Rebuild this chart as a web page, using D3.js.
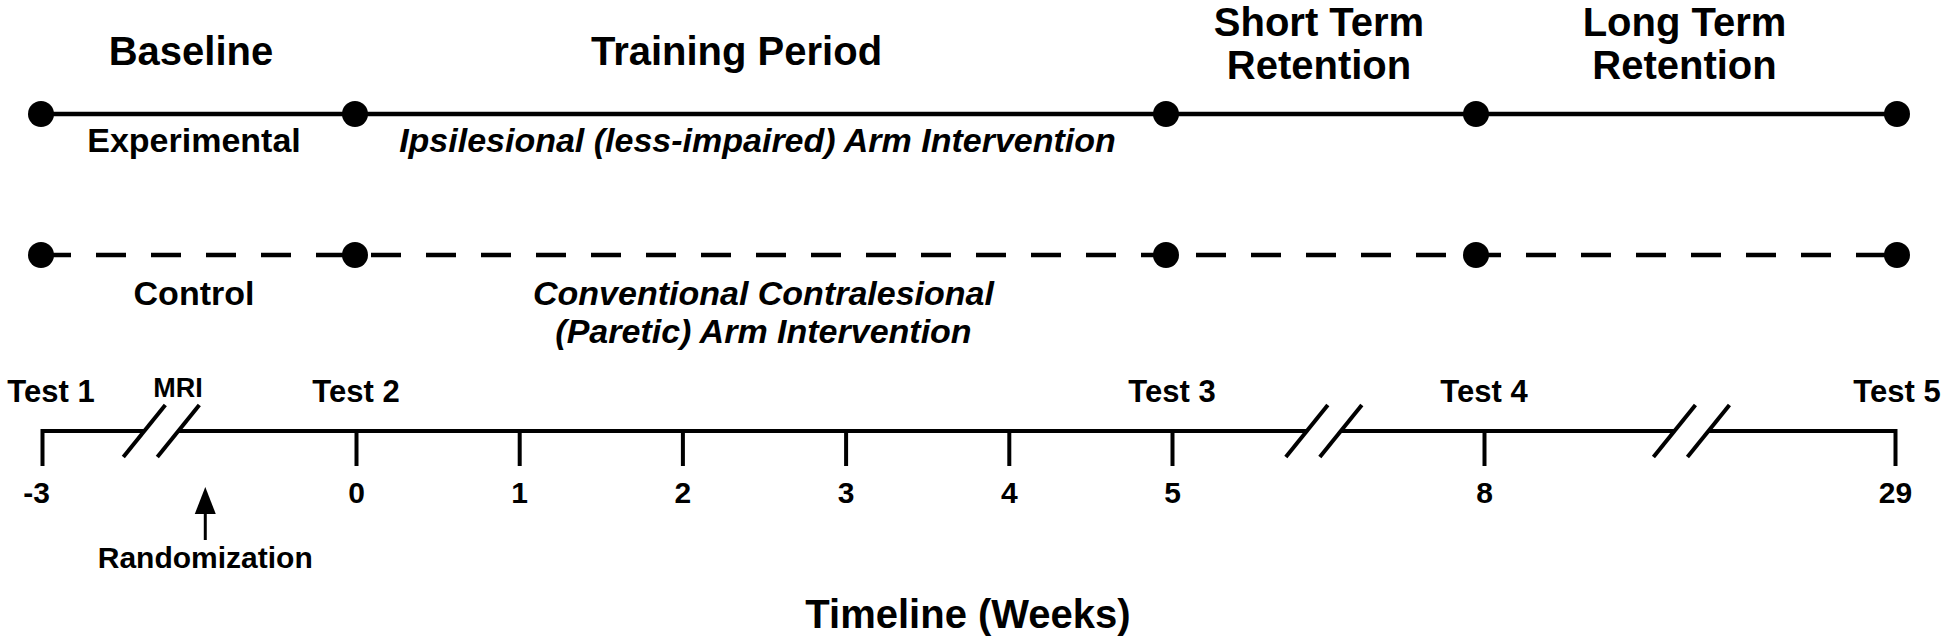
<!DOCTYPE html>
<html>
<head>
<meta charset="utf-8">
<script src="https://cdn.jsdelivr.net/npm/d3@7/dist/d3.min.js"></script>
<style>
  html, body { margin: 0; padding: 0; background: #fff; }
  svg { display: block; }
  text { font-family: "Liberation Sans", Arial, Helvetica, sans-serif; font-weight: bold; fill: #000; }
</style>
</head>
<body>
<div id="chart"></div>
<script>
// ---------------- data ----------------
const phaseNames = ["Baseline", "Training Period", "Short Term\nRetention", "Long Term\nRetention"];
const phaseBoundaryWeeks = [-3, 0, 5, 8, 29];
const groupNames = ["Experimental", "Control"];
const groupInterventions = [
  "Ipsilesional (less-impaired) Arm Intervention",
  "Conventional Contralesional\n(Paretic) Arm Intervention"
];
const tickWeeks = [-3, 0, 1, 2, 3, 4, 5, 8, 29];
const tickLabels = ["-3", "0", "1", "2", "3", "4", "5", "8", "29"];
const testNames = ["Test 1", "Test 2", "Test 3", "Test 4", "Test 5"];
const testWeeks = [-3, 0, 5, 8, 29];
const mriWeek = -1.7;
const randomizationWeek = -1.44;
const axisBreakWeeks = [-1.86, 6.46, 18.6];
const axisTitle = "Timeline (Weeks)";

// ---------------- layout ----------------
const W = 1944, H = 640;
const svg = d3.select("#chart").append("svg").attr("width", W).attr("height", H);
svg.append("rect").attr("width", W).attr("height", H).attr("fill", "#fff");

// broken (piecewise) timeline scales
const x = d3.scaleLinear().domain(phaseBoundaryWeeks).range([42, 356, 1172, 1484, 1895]);
const px = d3.scaleLinear().domain(phaseBoundaryWeeks).range([41, 355, 1166, 1476, 1897]);

const rowY = [114, 255];
const axisY = 431;

// phase headers
const headerDx = {"Training Period": -22, "Baseline": -5};
phaseNames.forEach((name, i) => {
  const cx = (px(phaseBoundaryWeeks[i]) + px(phaseBoundaryWeeks[i + 1])) / 2 + (headerDx[name] || 0) - 2;
  const lines = name.split("\n");
  const t = svg.append("text").attr("text-anchor", "middle").attr("font-size", 40);
  lines.forEach((ln, j) => {
    t.append("tspan").attr("x", cx)
      .attr("y", lines.length === 1 ? 65 : 36 + j * 43)
      .text(ln);
  });
});

// group rows
groupNames.forEach((g, gi) => {
  const y = rowY[gi];
  const line = d3.line().x(d => px(d)).y(() => y);
  svg.append("path")
    .attr("d", line(phaseBoundaryWeeks))
    .attr("fill", "none")
    .attr("stroke", "#000")
    .attr("stroke-width", 4.5)
    .attr("stroke-dasharray", gi === 1 ? "30,25" : null);
  svg.selectAll(null).data(phaseBoundaryWeeks).enter().append("circle")
    .attr("cx", d => px(d)).attr("cy", y).attr("r", 13).attr("fill", "#000");

  // group label (under baseline phase)
  const bx = (px(phaseBoundaryWeeks[0]) + px(phaseBoundaryWeeks[1])) / 2 - 4;
  svg.append("text").attr("text-anchor", "middle").attr("font-size", 34)
    .attr("x", bx).attr("y", y + (gi === 0 ? 38 : 50)).text(g);

  // intervention label (under training phase)
  const tx = (px(phaseBoundaryWeeks[1]) + px(phaseBoundaryWeeks[2])) / 2 + (gi === 0 ? -3 : 3);
  const lines = groupInterventions[gi].split("\n");
  const t = svg.append("text").attr("text-anchor", "middle").attr("font-size", 34)
    .attr("font-style", "italic");
  lines.forEach((ln, j) => {
    t.append("tspan").attr("x", tx).attr("y", y + (gi === 0 ? 38 : 50) + j * 38).text(ln);
  });
});

// ---------------- axis ----------------
const axis = d3.axisBottom(x)
  .tickValues(tickWeeks)
  .tickSize(33)
  .tickSizeOuter(0)
  .tickFormat((d, i) => tickLabels[i]);
const ag = svg.append("g").attr("transform", `translate(0,${axisY})`).call(axis);
ag.select(".domain").remove();
ag.selectAll(".tick line").attr("stroke", "#000").attr("stroke-width", 4).attr("stroke-linecap", "square");
ag.selectAll(".tick text")
  .attr("y", 72).attr("dy", null)
  .attr("font-size", 30)
  .attr("font-family", '"Liberation Sans", Arial, sans-serif')
  .attr("font-weight", "bold")
  .attr("fill", "#000")
  .attr("dx", (d, i) => tickLabels[i].startsWith("-") ? -6 : 0);

// axis line segments with breaks
const halfGap = 17;
const segs = [];
let start = x(tickWeeks[0]);
axisBreakWeeks.forEach(b => {
  const c = x(b);
  segs.push([start, c - halfGap]);
  start = c + halfGap;
});
segs.push([start, x(tickWeeks[tickWeeks.length - 1])]);
svg.selectAll(null).data(segs).enter().append("line")
  .attr("x1", d => d[0]).attr("x2", d => d[1])
  .attr("y1", axisY).attr("y2", axisY)
  .attr("stroke", "#000").attr("stroke-width", 4);
// break slashes
axisBreakWeeks.forEach(b => {
  const c = x(b);
  [c - halfGap, c + halfGap].forEach(sx => {
    svg.append("line")
      .attr("x1", sx - 21).attr("y1", axisY + 26)
      .attr("x2", sx + 21).attr("y2", axisY - 26)
      .attr("stroke", "#000").attr("stroke-width", 4);
  });
});

// test labels
testNames.forEach((t, i) => {
  const dx = i === 0 ? 9 : (i === testNames.length - 1 ? 2 : 0);
  svg.append("text").attr("text-anchor", "middle").attr("font-size", 31)
    .attr("x", x(testWeeks[i]) + dx).attr("y", axisY - 29).text(t);
});
svg.append("text").attr("text-anchor", "middle").attr("font-size", 27)
  .attr("x", x(mriWeek)).attr("y", axisY - 34).text("MRI");

// randomization arrow
const rx = x(randomizationWeek);
svg.append("line").attr("x1", rx).attr("x2", rx).attr("y1", 540).attr("y2", 510)
  .attr("stroke", "#000").attr("stroke-width", 3);
svg.append("path")
  .attr("d", `M${rx},487 L${rx - 10.5},514 L${rx + 10.5},514 Z`)
  .attr("fill", "#000");
svg.append("text").attr("text-anchor", "middle").attr("font-size", 30)
  .attr("x", rx).attr("y", 568).text("Randomization");

// axis title
svg.append("text").attr("text-anchor", "middle").attr("font-size", 40)
  .attr("x", 968).attr("y", 628).text(axisTitle);
</script>
</body>
</html>
